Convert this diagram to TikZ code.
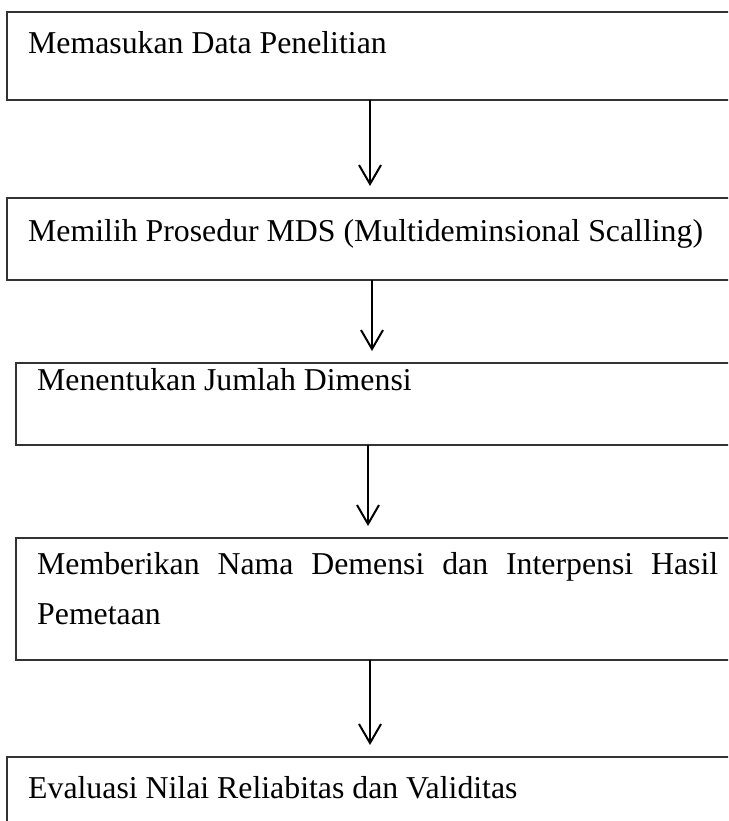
\documentclass[tikz,border=0pt]{standalone}
\usepackage{fontspec}
\setmainfont{Liberation Serif}
\usetikzlibrary{arrows.meta}
\tikzset{
  box/.style={draw=black!80, line width=1.4pt, anchor=north west, inner sep=0pt, outer sep=0pt},
  lbl/.style={anchor=base west, inner sep=0pt, font=\fontsize{31.8}{50}\selectfont},
  arr/.style={draw=black, line width=2pt, -{Straight Barb[length=19pt,width=22pt,line width=2pt]}}
}
\begin{document}
\begin{tikzpicture}[x=1pt,y=-1pt]
\clip (0,0) rectangle (728,821);
\fill[white] (0,0) rectangle (728,821);
% boxes
\node[box, minimum width=760pt, minimum height=88pt] (b1) at (7,12) {};
\node[box, minimum width=760pt, minimum height=82pt] (b2) at (7,198) {};
\node[box, minimum width=760pt, minimum height=82pt] (b3) at (16,363) {};
\node[box, minimum width=760pt, minimum height=122pt] (b4) at (16,538) {};
\node[box, minimum width=760pt, minimum height=100pt] (b5) at (7,757) {};
% labels
\node[lbl] (t1) at (28,54) {Memasukan Data Penelitian};
\node[lbl] (t2) at (28,241) {Memilih Prosedur MDS (Multideminsional Scalling)};
\node[lbl] (t3) at (37,390) {Menentukan Jumlah Dimensi};
\node[lbl, text width=681pt, align=justify, anchor=north west] (t4) at (37,552) {Memberikan Nama Demensi dan Interpensi Hasil Pemetaan};
\node[lbl] (t5) at (28,798) {Evaluasi Nilai Reliabitas dan Validitas};
% arrows
\draw[arr] (b1.south west -| 370,0) -- ([yshift=12pt]b2.north west -| 370,0);
\draw[arr] (b2.south west -| 372,0) -- ([yshift=12pt]b3.north west -| 372,0);
\draw[arr] (b3.south west -| 368,0) -- ([yshift=12pt]b4.north west -| 368,0);
\draw[arr] (b4.south west -| 370,0) -- ([yshift=12pt]b5.north west -| 370,0);
\end{tikzpicture}
\end{document}
